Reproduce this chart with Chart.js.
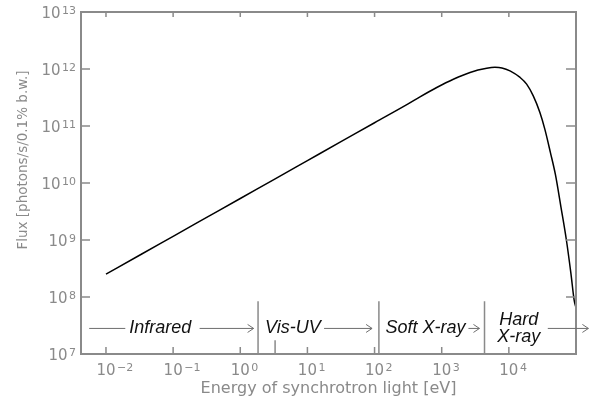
<!DOCTYPE html>
<html>
<head>
<meta charset="utf-8">
<script src="https://cdn.jsdelivr.net/npm/chart.js@4.4.1/dist/chart.umd.min.js"></script>
<style>
  html, body { margin: 0; padding: 0; background: #fff; }
  #wrap { width: 589px; height: 398px; }
</style>
</head>
<body>
<div id="wrap"><canvas id="chart"></canvas></div>
<script>
// photon energy [eV] and flux [photons/s/0.1% b.w.]
const energy = [0.01, 0.0316, 0.1, 0.316, 1, 3.16, 10, 31.6, 100, 316, 475, 843,
  1490, 2640, 4680, 6210, 7890, 10400, 14700, 18400, 23100, 29000, 34400, 41600,
  49400, 59600, 71900, 83900, 94000, 98600];
const flux = [2.51e8, 5.4e8, 1.16e9, 2.49e9, 5.35e9, 1.15e10, 2.47e10, 5.3e10, 1.14e11,
  2.44e11, 3.24e11, 4.73e11, 6.61e11, 8.71e11, 1.03e12, 1.07e12, 1.045e12, 9.29e11,
  7.11e11, 5.42e11, 3.37e11, 1.72e11, 8.71e10, 3.42e10, 1.40e10, 3.82e9, 1.0e9,
  2.62e8, 8.7e7, 6.86e7];

// decades that get a tick + label
const xTickPowers = [-2, -1, 0, 1, 2, 3, 4];
const yTickPowers = [7, 8, 9, 10, 11, 12, 13];

// spectral regions
const regionNames = ['Infrared', 'Vis-UV', 'Soft X-ray', 'Hard\nX-ray'];
const regionCenters = [0.0643, 6.08, 574, 14000];   // eV
const regionBounds = [1.84, 116, 4340];              // eV, tall dividers
const visUvEdge = 3.3;                                // eV, short divider
const regionArrows = [                                // [from eV, to eV, head?]
  [0.00562, 0.0194, false],
  [0.248, 1.58, true],
  [17.7, 91.8, true],
  [2500, 3650, true],
  [38000, 153000, true]
];

const gray = '#8a8a8a';
const sans = '"DejaVu Sans", sans-serif';

// "10" plus a raised exponent
function drawPow(ctx, p, x, y, align) {
  ctx.font = '15px ' + sans;
  const base = ctx.measureText('10').width;
  ctx.font = '11px ' + sans;
  const exp = String(p).replace('-', '\u2212');
  const ew = ctx.measureText(exp).width;
  let left;
  if (align === 'right') left = x - base - 1.5 - ew;
  else left = x - base / 2;
  ctx.textAlign = 'left';
  ctx.textBaseline = 'alphabetic';
  ctx.font = '15px ' + sans;
  ctx.fillText('10', left, y);
  ctx.font = '11px ' + sans;
  ctx.fillText(exp, left + base + 1.5, y - 4.5);
}

const decorate = {
  id: 'decorate',
  afterDatasetsDraw(chart) {
    const { ctx, chartArea: a, scales: { x, y } } = chart;
    ctx.save();
    ctx.strokeStyle = gray;

    // inward tick marks on all four sides
    ctx.lineWidth = 1.5;
    ctx.beginPath();
    xTickPowers.forEach(p => {
      const px = x.getPixelForValue(10 ** p);
      ctx.moveTo(px, a.bottom); ctx.lineTo(px, a.bottom - 7);
      ctx.moveTo(px, a.top); ctx.lineTo(px, a.top + 5);
    });
    yTickPowers.forEach(p => {
      const py = y.getPixelForValue(10 ** p);
      ctx.moveTo(a.left, py); ctx.lineTo(a.left + 9, py);
      ctx.moveTo(a.right, py); ctx.lineTo(a.right - 10, py);
    });
    ctx.stroke();

    // frame
    ctx.lineWidth = 2;
    ctx.strokeRect(a.left, a.top, a.right - a.left, a.bottom - a.top);

    // tick labels
    ctx.fillStyle = gray;
    xTickPowers.forEach(p => drawPow(ctx, p, x.getPixelForValue(10 ** p), a.bottom + 21, 'center'));
    yTickPowers.forEach(p => drawPow(ctx, p, a.left - 5, y.getPixelForValue(10 ** p) + 6, 'right'));

    // region dividers
    ctx.lineWidth = 1.5;
    ctx.beginPath();
    regionBounds.forEach(e => {
      const px = x.getPixelForValue(e);
      ctx.moveTo(px, a.bottom); ctx.lineTo(px, y.getPixelForValue(8.4e7));
    });
    const pv = x.getPixelForValue(visUvEdge);
    ctx.moveTo(pv, a.bottom); ctx.lineTo(pv, y.getPixelForValue(1.74e7));
    ctx.stroke();

    // arrows
    const ay = y.getPixelForValue(2.81e7);
    ctx.lineWidth = 1;
    ctx.strokeStyle = '#6e6e6e';
    regionArrows.forEach(([e0, e1, head]) => {
      const x0 = x.getPixelForValue(e0), x1 = x.getPixelForValue(e1);
      ctx.beginPath();
      ctx.moveTo(x0, ay); ctx.lineTo(x1, ay);
      if (head) {
        ctx.moveTo(x1 - 6, ay - 4); ctx.lineTo(x1, ay); ctx.lineTo(x1 - 6, ay + 4);
      }
      ctx.stroke();
    });

    // region names
    ctx.fillStyle = '#111';
    ctx.font = 'italic 18px "Liberation Sans", sans-serif';
    ctx.textAlign = 'center';
    ctx.textBaseline = 'middle';
    regionNames.forEach((name, i) => {
      const cx = x.getPixelForValue(regionCenters[i]);
      const lines = name.split('\n');
      if (lines.length === 1) {
        ctx.fillText(name, cx, ay);
      } else {
        ctx.fillText(lines[0], cx, y.getPixelForValue(3.96e7));
        ctx.fillText(lines[1], cx, y.getPixelForValue(2.0e7));
      }
    });

    // y axis title
    ctx.fillStyle = gray;
    ctx.font = '13.5px ' + sans;
    ctx.translate(23, 160);
    ctx.rotate(-Math.PI / 2);
    ctx.fillText('Flux [photons/s/0.1% b.w.]', 0, 0);
    ctx.restore();
  }
};

new Chart(document.getElementById('chart'), {
  type: 'line',
  data: {
    datasets: [{
      data: energy.map((e, i) => ({ x: e, y: flux[i] })),
      borderColor: '#000',
      borderWidth: 1.5,
      pointRadius: 0,
      cubicInterpolationMode: 'monotone',
      fill: false
    }]
  },
  options: {
    responsive: true,
    maintainAspectRatio: false,
    animation: false,
    layout: { padding: { top: 12, right: 13, left: 0, bottom: 0 } },
    scales: {
      x: {
        type: 'logarithmic',
        min: 0.004246,
        max: 1e5,
        grid: { display: false },
        border: { display: false },
        afterBuildTicks: s => { s.ticks = xTickPowers.map(p => ({ value: 10 ** p })); },
        afterFit: s => { s.height = 44; },
        ticks: { display: false },
        title: {
          display: true,
          text: 'Energy of synchrotron light [eV]',
          color: gray,
          font: { family: '"DejaVu Sans", sans-serif', size: 16 },
          padding: { top: 0, bottom: 0 }
        }
      },
      y: {
        type: 'logarithmic',
        min: 1e7,
        max: 1e13,
        grid: { display: false },
        border: { display: false },
        afterBuildTicks: s => { s.ticks = yTickPowers.map(p => ({ value: 10 ** p })); },
        afterFit: s => { s.width = 81; },
        ticks: { display: false }
      }
    },
    plugins: {
      legend: { display: false },
      tooltip: { enabled: false }
    }
  },
  plugins: [decorate]
});
</script>
</body>
</html>
